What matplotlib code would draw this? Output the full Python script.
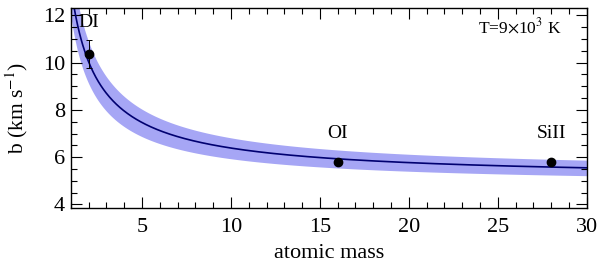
import matplotlib
matplotlib.use("Agg")
import matplotlib.pyplot as plt
import numpy as np
from matplotlib.ticker import MultipleLocator

# measured b-values
ions = ["DI", "OI", "SiII"]
masses = [2.0, 16.0, 28.0]
b_vals = [10.35, 5.78, 5.80]
b_errs = [0.6, 0.0, 0.0]
label_y = [11.7, 7.0, 7.0]

# model parameters: b^2 = 2kT/m + b_turb^2
T_model = 9.0e3
dT_model = 1.8e3
b_turb = 5.08
db_turb = 0.26

def b_model(m, T, bt):
    k_over_amu = 1.380649e-23 / 1.66054e-27  # m^2 s^-2 K^-1
    return np.sqrt(2 * k_over_amu * T / m / 1e6 + bt ** 2)

plt.rcParams['font.family'] = ['Liberation Serif', 'DejaVu Serif']
plt.rcParams['mathtext.fontset'] = 'stix'

fig = plt.figure(figsize=(6.0, 2.62), dpi=100)
ax = fig.add_axes([0.118, 0.206, 0.86, 0.763])

m = np.linspace(1.0, 30.0, 600)
lo = b_model(m, T_model - dT_model, b_turb - db_turb)
hi = b_model(m, T_model + dT_model, b_turb + db_turb)
ax.fill_between(m, lo, hi, color='#a6a6f5', lw=0, zorder=1)
ax.plot(m, b_model(m, T_model, b_turb), color='#000070', lw=1.2, zorder=2)

ax.errorbar(masses, b_vals, yerr=b_errs, fmt='o', color='black', ms=6,
            elinewidth=0.7, capsize=2.5, capthick=0.7, zorder=3)
for name, x, y in zip(ions, masses, label_y):
    ax.text(x, y, name, ha='center', va='center', fontsize=14)

ax.text(28.6, 11.5, r'T=9$\times$10$^3$ K', ha='right', va='center', fontsize=12.5)

ax.set_xlim(1, 30)
ax.set_ylim(3.85, 12.3)
ax.xaxis.set_major_locator(MultipleLocator(5))
ax.xaxis.set_minor_locator(MultipleLocator(1))
ax.yaxis.set_major_locator(MultipleLocator(2))
ax.yaxis.set_minor_locator(MultipleLocator(0.5))
ax.tick_params(which='both', direction='in', top=True, right=True, labelsize=16)
ax.tick_params(which='major', length=8, width=0.8)
ax.tick_params(which='minor', length=4, width=0.8)
ax.tick_params(axis='x', pad=7)
ax.tick_params(axis='y', pad=4)
for s in ax.spines.values():
    s.set_linewidth(1.0)

ax.set_xlabel('atomic mass', fontsize=16, labelpad=5)
ax.set_ylabel(r'b (km s$^{-1}$)', fontsize=15.5, labelpad=9)

fig.savefig('out.png', dpi=100)
